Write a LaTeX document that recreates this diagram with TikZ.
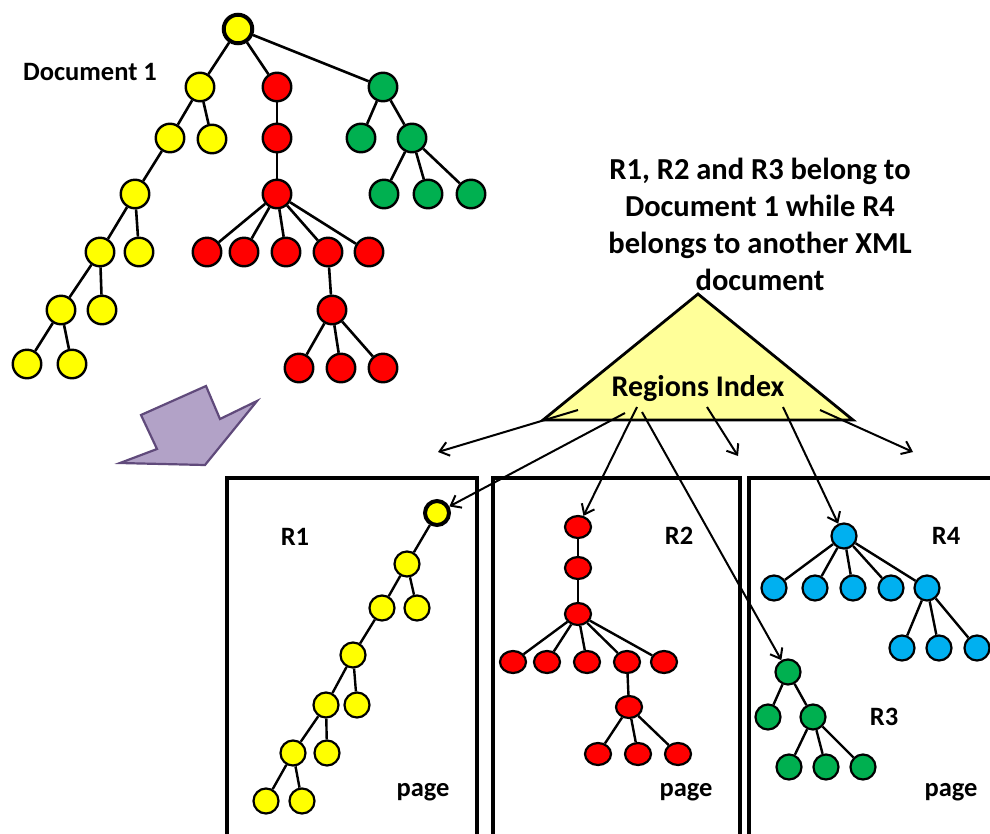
\documentclass[tikz,border=0pt]{standalone}
\usepackage{fontspec}
\setmainfont{Carlito}
\usetikzlibrary{arrows.meta,shapes.geometric}

\definecolor{nodeyellow}{RGB}{255,255,0}
\definecolor{nodered}{RGB}{255,0,0}
\definecolor{nodegreen}{RGB}{0,176,80}
\definecolor{nodeblue}{RGB}{0,176,240}
\definecolor{indexfill}{RGB}{255,255,153}
\definecolor{bigarrowfill}{RGB}{178,162,199}
\definecolor{bigarrowline}{RGB}{96,74,123}

\tikzset{
  tn/.style={circle, draw=black, line width=2.4pt, inner sep=0pt, minimum size=28.5pt},
  sn/.style={circle, draw=black, line width=2.2pt, inner sep=0pt, minimum size=25pt},
  en/.style={ellipse, draw=black, line width=2.2pt, inner sep=0pt, minimum width=26pt, minimum height=22pt},
  rootnode/.style={line width=4pt},
  yel/.style={fill=nodeyellow},
  rd/.style={fill=nodered},
  gr/.style={fill=nodegreen},
  bl/.style={fill=nodeblue},
  edge/.style={line width=2.6pt},
  subedge/.style={line width=2.4pt},
  ptr/.style={line width=2pt, -{Straight Barb[length=9pt,width=14pt,line width=2pt]}},
  lbl/.style={font=\fontsize{26.5}{30}\selectfont\bfseries, inner sep=0pt},
  pagebox/.style={line width=3.4pt},
}

\begin{document}
\begin{tikzpicture}[x=1pt,y=-1pt]
\clip (0,0) rectangle (990,833);
\fill[white] (0,0) rectangle (990,833);

% ---------- Document 1 ----------
\node[lbl] (doclabel) at (90,72) {Document 1};

\node[tn,yel,rootnode] (d0) at (238,29) {};
% yellow branch
\node[tn,yel] (y1) at (200,87) {};
\node[tn,yel] (y2) at (170,138) {};
\node[tn,yel] (y3) at (212,139) {};
\node[tn,yel] (y4) at (135,194) {};
\node[tn,yel] (y5) at (100,252) {};
\node[tn,yel] (y6) at (139,252) {};
\node[tn,yel] (y7) at (61,310) {};
\node[tn,yel] (y8) at (102,310) {};
\node[tn,yel] (y9) at (27,364) {};
\node[tn,yel] (y10) at (72,364) {};
% red branch
\node[tn,rd] (ra) at (277,87) {};
\node[tn,rd] (rb) at (277,138) {};
\node[tn,rd] (rc) at (277,194) {};
\node[tn,rd] (rd1) at (207,252) {};
\node[tn,rd] (rd2) at (244,252) {};
\node[tn,rd] (rd3) at (286,252) {};
\node[tn,rd] (rd4) at (328,252) {};
\node[tn,rd] (rd5) at (369,252) {};
\node[tn,rd] (re) at (332,310) {};
\node[tn,rd] (rf1) at (299,368) {};
\node[tn,rd] (rf2) at (341,368) {};
\node[tn,rd] (rf3) at (383,368) {};
% green branch
\node[tn,gr] (ga) at (383,87) {};
\node[tn,gr] (gb) at (361,138) {};
\node[tn,gr] (gc) at (412,138) {};
\node[tn,gr] (gd1) at (384,194) {};
\node[tn,gr] (gd2) at (428,194) {};
\node[tn,gr] (gd3) at (471,194) {};

\foreach \a/\b in {d0/y1,y1/y2,y1/y3,y2/y4,y4/y5,y4/y6,y5/y7,y5/y8,y7/y9,y7/y10,
                   d0/ra,ra/rb,rb/rc,rc/rd1,rc/rd2,rc/rd3,rc/rd4,rc/rd5,rd4/re,re/rf1,re/rf2,re/rf3,
                   d0/ga,ga/gb,ga/gc,gc/gd1,gc/gd2,gc/gd3}
  \draw[edge] (\a) -- (\b);

% ---------- big arrow ----------
\draw[fill=bigarrowfill, draw=bigarrowline, line width=2.2pt, line join=miter]
  (141,415) -- (206,386) -- (220,419) -- (257,401) -- (205,465) -- (120,463) -- (157,449) -- cycle;

% ---------- note ----------
\node[font=\fontsize{30.5}{37}\selectfont\bfseries, align=center, inner sep=0pt] (note) at (760,224)
  {R1, R2 and R3 belong to\\Document 1 while R4\\belongs to another XML\\document};

% ---------- regions index ----------
\draw[fill=indexfill, line width=2.8pt, line join=miter] (698,294) -- (853,420) -- (543,420) -- cycle;
\node[font=\fontsize{30}{36}\selectfont\bfseries, inner sep=0pt] (idx) at (698,389) {Regions Index};

\coordinate (s1) at (625,413);
\coordinate (s2) at (578,410);
\coordinate (s3) at (637,407);
\coordinate (s4) at (642,412);
\coordinate (s5) at (707,407);
\coordinate (s6) at (783,407);
\coordinate (s7) at (820,410);
\coordinate (t2) at (438,452);
\coordinate (t5) at (738,456);
\coordinate (t7) at (913,452);

% ---------- pages ----------
\draw[pagebox] (227,840) -- (227,478) -- (477,478) -- (477,840);
\draw[pagebox] (493,840) -- (493,478) -- (740,478) -- (740,840);
\draw[pagebox] (749,840) -- (749,478) -- (1000,478);

\node[lbl] (r1lbl) at (295,537) {R1};
\node[lbl] (r2lbl) at (679,536) {R2};
\node[lbl] (r4lbl) at (946,536) {R4};
\node[lbl] (r3lbl) at (884,717) {R3};
\node[lbl] (page1) at (423,792) {page};
\node[lbl] (page2) at (686,792) {page};
\node[lbl] (page3) at (951,792) {page};

% R1
\node[sn,yel,rootnode,minimum size=24pt] (a0) at (437,513) {};
\node[sn,yel] (a1) at (407,564) {};
\node[sn,yel] (a2) at (382,608) {};
\node[sn,yel] (a3) at (417,608) {};
\node[sn,yel] (a4) at (353,655) {};
\node[sn,yel] (a5) at (326,705) {};
\node[sn,yel] (a6) at (357,705) {};
\node[sn,yel] (a7) at (293,753) {};
\node[sn,yel] (a8) at (327,753) {};
\node[sn,yel] (a9) at (266,801) {};
\node[sn,yel] (a10) at (302,801) {};
\foreach \a/\b in {a0/a1,a1/a2,a1/a3,a2/a4,a4/a5,a4/a6,a5/a7,a5/a8,a7/a9,a7/a10}
  \draw[subedge] (\a) -- (\b);

% R2
\node[en,rd] (b0) at (578,527) {};
\node[en,rd] (b1) at (578,568) {};
\node[en,rd] (b2) at (578,614) {};
\node[en,rd] (b3) at (513,662) {};
\node[en,rd] (b4) at (547,662) {};
\node[en,rd] (b5) at (587,662) {};
\node[en,rd] (b6) at (627,662) {};
\node[en,rd] (b7) at (664,662) {};
\node[en,rd] (b8) at (629,707) {};
\node[en,rd] (b9) at (598,754) {};
\node[en,rd] (b10) at (638,754) {};
\node[en,rd] (b11) at (678,754) {};
\foreach \a/\b in {b0/b1,b1/b2,b2/b3,b2/b4,b2/b5,b2/b6,b2/b7,b6/b8,b8/b9,b8/b10,b8/b11}
  \draw[subedge] (\a) -- (\b);

% R4
\node[sn,bl] (c0) at (844,536) {};
\node[sn,bl] (c1) at (774,588) {};
\node[sn,bl] (c2) at (815,588) {};
\node[sn,bl] (c3) at (853,588) {};
\node[sn,bl] (c4) at (891,588) {};
\node[sn,bl] (c5) at (927,588) {};
\node[sn,bl] (c6) at (902,648) {};
\node[sn,bl] (c7) at (939,648) {};
\node[sn,bl] (c8) at (977,648) {};
\foreach \a/\b in {c0/c1,c0/c2,c0/c3,c0/c4,c0/c5,c5/c6,c5/c7,c5/c8}
  \draw[subedge] (\a) -- (\b);

% R3
\node[sn,gr] (g0) at (788,672) {};
\node[sn,gr] (g1) at (768,717) {};
\node[sn,gr] (g2) at (813,717) {};
\node[sn,gr] (g3) at (789,767) {};
\node[sn,gr] (g4) at (826,767) {};
\node[sn,gr] (g5) at (863,767) {};
\foreach \a/\b in {g0/g1,g0/g2,g2/g3,g2/g4,g2/g5}
  \draw[subedge] (\a) -- (\b);

% ---------- index pointers ----------
\draw[ptr] (s1) -- (a0);
\draw[ptr] (s2) -- (t2);
\draw[ptr] (s3) -- (b0);
\draw[ptr] (s4) -- (g0);
\draw[ptr] (s5) -- (t5);
\draw[ptr] (s6) -- (c0);
\draw[ptr] (s7) -- (t7);

\end{tikzpicture}
\end{document}
